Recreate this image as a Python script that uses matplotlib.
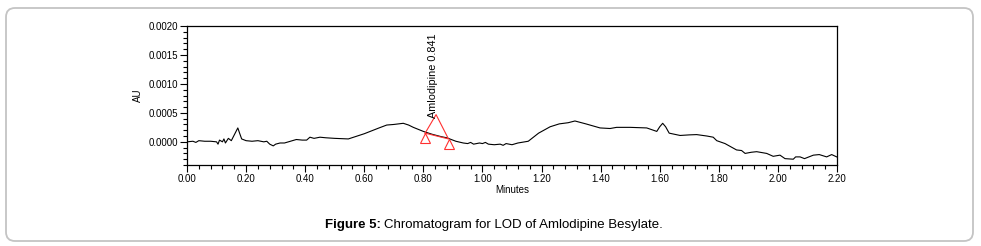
import matplotlib
matplotlib.use("Agg")
import matplotlib.pyplot as plt
from matplotlib.patches import FancyBboxPatch
from matplotlib.transforms import IdentityTransform
from matplotlib.ticker import MultipleLocator, FormatStrFormatter

plt.rcParams.update({
    "font.family": ["Liberation Sans", "DejaVu Sans"],
    "font.size": 7,
    "axes.linewidth": 0.9,
})

# chromatogram trace (minutes, AU)
time_min = [
    0.00, 0.02, 0.03, 0.04, 0.06, 0.08, 0.10, 0.105, 0.11, 0.12, 0.125, 0.13,
    0.14, 0.15, 0.16, 0.172, 0.178, 0.185, 0.20, 0.22, 0.24, 0.26, 0.27, 0.28,
    0.292, 0.30, 0.315, 0.33, 0.35, 0.37, 0.39, 0.405, 0.416, 0.43, 0.45, 0.47,
    0.50, 0.546, 0.60, 0.65, 0.676, 0.70, 0.732, 0.75, 0.766, 0.80, 0.83, 0.86,
    0.879, 0.91, 0.935, 0.95, 0.96, 0.97, 0.99, 1.00, 1.01, 1.02, 1.04, 1.06,
    1.07, 1.08, 1.10, 1.12, 1.155, 1.19, 1.229, 1.26, 1.29, 1.313, 1.35, 1.398,
    1.432, 1.454, 1.50, 1.556, 1.59, 1.600, 1.610, 1.620, 1.632, 1.669, 1.70,
    1.725, 1.76, 1.781, 1.793, 1.821, 1.860, 1.877, 1.889, 1.91, 1.928, 1.962,
    1.984, 2.007, 2.024, 2.052, 2.06, 2.075, 2.09, 2.12, 2.14, 2.165, 2.182,
    2.199,
]
au = [
    0.00000, 0.00001, -0.00001, 0.00002, 0.00001, 0.00001, 0.00000, -0.00004,
    0.00003, 0.00000, 0.00005, -0.00002, 0.00006, 0.00002, 0.00012, 0.00024,
    0.00015, 0.00005, 0.00002, 0.00001, 0.00002, 0.00000, 0.00001, -0.00004,
    -0.00007, -0.00004, -0.00002, -0.00002, 0.00001, 0.00004, 0.00003, 0.00003,
    0.00008, 0.00006, 0.00008, 0.00007, 0.00006, 0.00005, 0.00014, 0.00024,
    0.00029, 0.00030, 0.00032, 0.00029, 0.00025, 0.00018, 0.00013, 0.00009,
    0.00007, 0.00001, -0.00002, -0.00003, -0.00001, -0.00004, -0.00002,
    -0.00003, -0.00001, -0.00004, -0.00005, -0.00004, -0.00006, -0.00003,
    -0.00005, -0.00002, 0.00001, 0.00015, 0.00026, 0.00031, 0.00033, 0.00036,
    0.00031, 0.00024, 0.00023, 0.00025, 0.00025, 0.00024, 0.00018, 0.00026,
    0.00032, 0.00026, 0.00015, 0.00011, 0.00012, 0.000125, 0.00010, 0.00008,
    0.00002, -0.00003, -0.00014, -0.00015, -0.00020, -0.00018, -0.00017,
    -0.00020, -0.00025, -0.00023, -0.00029, -0.00030, -0.00026, -0.00026,
    -0.00029, -0.00023, -0.00022, -0.00026, -0.00022, -0.00026,
]

# integrated peak (start, apex, end)
peak_t = [0.806, 0.843, 0.885]
peak_au = [0.00015, 0.00047, 0.00005]
marker_t = [0.806, 0.888]
marker_au = [0.00006, -0.00004]
peak_label = "Amlodipine 0.841"

W, H = 981, 246
fig = plt.figure(figsize=(W / 100, H / 100), dpi=100)

# rounded grey frame, in pixels (y measured from the bottom)
frame = FancyBboxPatch((6, H - 241), 967, 233,
                       boxstyle="round,pad=0,rounding_size=9",
                       transform=IdentityTransform(), facecolor="none",
                       edgecolor="#c4c4c4", linewidth=1.3, zorder=-1)
fig.patches.append(frame)

ax = fig.add_axes([187 / W, 1 - 165 / H, 650 / W, 139 / H])
ax.plot(time_min, au, color="black", lw=0.8)

ax.plot([peak_t[0], peak_t[1], peak_t[2], peak_t[0]],
        [peak_au[0], peak_au[1], peak_au[2], peak_au[0]],
        color="#ff3030", lw=0.8)
ax.plot(marker_t, marker_au, linestyle="none", marker="^", markersize=6.5,
        markerfacecolor="none", markeredgecolor="#ff3030", markeredgewidth=0.8)
ax.annotate(peak_label, xy=(0.841, peak_au[1]), xytext=(-1.5, -2.5),
            textcoords="offset points", rotation=90, ha="center",
            va="bottom", fontsize=7.8)

ax.set_xlim(0, 2.2)
ax.set_ylim(-0.0004, 0.0020)
ax.xaxis.set_major_locator(MultipleLocator(0.2))
ax.xaxis.set_minor_locator(MultipleLocator(0.04))
ax.yaxis.set_major_locator(MultipleLocator(0.0005))
ax.yaxis.set_minor_locator(MultipleLocator(0.0001))
ax.xaxis.set_major_formatter(FormatStrFormatter("%.2f"))
ax.yaxis.set_major_formatter(FormatStrFormatter("%.4f"))
ax.tick_params(which="major", length=5, width=0.8, pad=1.5, labelsize=7)
ax.tick_params(which="minor", length=3, width=0.8)
ax.tick_params(top=False, right=False, which="both")
ax.set_xlabel("Minutes", fontsize=7, labelpad=1)
ax.set_ylabel("AU", fontsize=7, labelpad=4)

# caption: bold lead-in followed by plain text
cap_y = 1 - 225 / H
t1 = fig.text(325 / W, cap_y, "Figure 5:", fontweight="bold",
              ha="left", va="center", fontsize=9.5)
fig.canvas.draw()
x_end = t1.get_window_extent().x1
fig.text((x_end + 3) / W, cap_y,
         "Chromatogram for LOD of Amlodipine Besylate.",
         ha="left", va="center", fontsize=9.5)

fig.savefig("out.png", dpi=100)
